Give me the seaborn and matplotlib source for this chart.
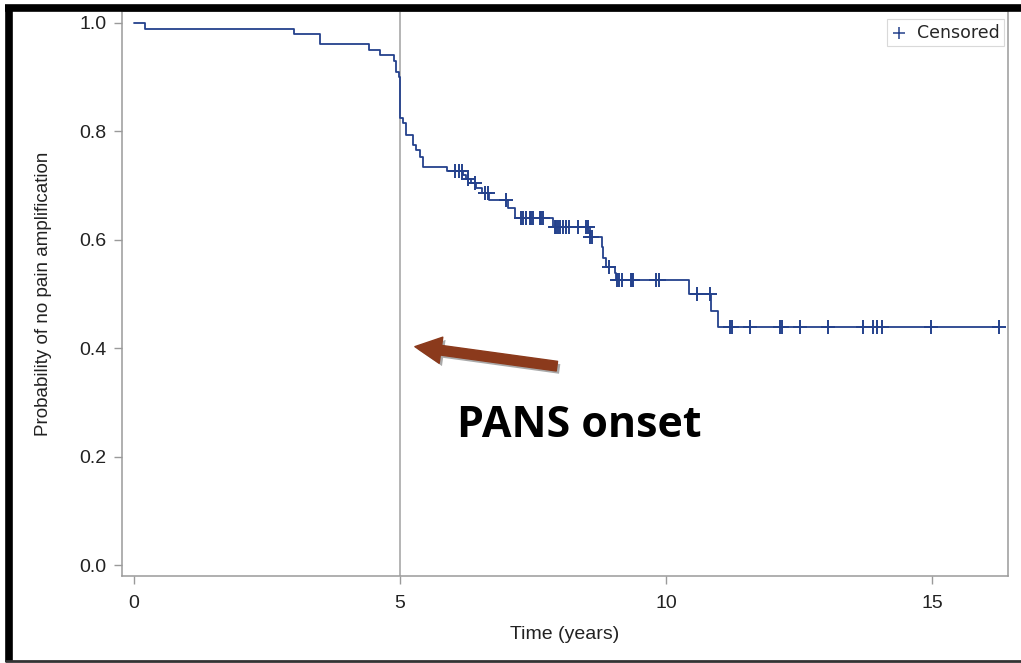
import matplotlib
matplotlib.use("Agg")
import matplotlib.pyplot as plt
import matplotlib.patheffects as pe
from matplotlib.lines import Line2D
import seaborn as sns
import pandas as pd

# Kaplan-Meier step curve (time of event, survival after event)
step_times = [0.0, 0.2, 3.0, 3.5, 4.42, 4.62, 4.89, 4.93, 4.98, 5.0, 5.05, 5.11, 5.25,
              5.30, 5.38, 5.43, 5.88, 6.19, 6.25, 6.33, 6.43, 6.54, 6.68, 7.03, 7.16,
              7.88, 8.57, 8.79, 8.82, 8.88, 9.04, 9.07, 10.43, 10.85, 10.98, 16.27]
step_surv = [1.0, 0.988, 0.980, 0.961, 0.950, 0.940, 0.930, 0.910, 0.901, 0.824, 0.815,
             0.793, 0.775, 0.766, 0.753, 0.735, 0.726, 0.720, 0.712, 0.704, 0.695, 0.686,
             0.673, 0.658, 0.640, 0.624, 0.606, 0.587, 0.566, 0.550, 0.538, 0.526,
             0.501, 0.468, 0.4385, 0.4385]

# Censored observations
cens_times = [6.03, 6.11, 6.16, 6.28, 6.41, 6.60, 6.65, 6.99,
              7.27, 7.32, 7.37, 7.44, 7.47, 7.50, 7.63, 7.66, 7.68,
              7.91, 7.94, 7.97, 8.01, 8.07, 8.13, 8.18, 8.35, 8.50, 8.54,
              8.57, 8.61, 8.93,
              9.08, 9.12, 9.18, 9.34, 9.36, 9.39, 9.81, 9.87,
              10.58, 10.83,
              11.20, 11.24, 11.58, 12.15, 12.19, 12.52, 13.04, 13.71, 13.90, 13.96,
              14.07, 14.98, 16.27]
cens_surv = [0.726, 0.726, 0.726, 0.712, 0.704, 0.686, 0.686, 0.673,
             0.640, 0.640, 0.640, 0.640, 0.640, 0.640, 0.640, 0.640, 0.640,
             0.624, 0.624, 0.624, 0.624, 0.624, 0.624, 0.624, 0.624, 0.624, 0.624,
             0.606, 0.606, 0.550,
             0.526, 0.526, 0.526, 0.526, 0.526, 0.526, 0.526, 0.526,
             0.501, 0.501,
             0.4385, 0.4385, 0.4385, 0.4385, 0.4385, 0.4385, 0.4385, 0.4385, 0.4385,
             0.4385, 0.4385, 0.4385, 0.4385]

x_ticks = [0, 5, 10, 15]
y_ticks = [0.0, 0.2, 0.4, 0.6, 0.8, 1.0]
y_ticklabels = ["0.0", "0.2", "0.4", "0.6", "0.8", "1.0"]
onset_year = 5

sns.set_theme(style="white")
plt.rcParams["font.family"] = ["Liberation Sans", "DejaVu Sans"]

line_color = "#24418C"
axis_gray = "#9a9a9a"

fig = plt.figure(figsize=(10.21, 6.63), dpi=100)
ax = fig.add_axes([122 / 1021, 1 - 576 / 663, (1008 - 122) / 1021, (576 - 11) / 663])

steps = pd.DataFrame({"t": step_times, "s": step_surv})
cens = pd.DataFrame({"t": cens_times, "s": cens_surv})

ax.axvline(onset_year, color="#a8a8a8", lw=1.2, zorder=1)

sns.lineplot(data=steps, x="t", y="s", drawstyle="steps-post", color=line_color,
             lw=1.3, ax=ax, estimator=None, sort=False, zorder=3)
sns.scatterplot(data=cens, x="t", y="s", marker="+", s=100, color=line_color,
                linewidth=1.4, ax=ax, zorder=4, label="Censored")

ax.set_xlim(-0.225, 16.43)
ax.set_ylim(-0.020, 1.022)
ax.set_xticks(x_ticks)
ax.set_yticks(y_ticks)
ax.set_yticklabels(y_ticklabels)
ax.tick_params(axis="both", direction="out", length=6, width=1, color=axis_gray,
               labelsize=14, labelcolor="#222222", bottom=True, left=True)
ax.tick_params(axis="x", pad=8)
ax.tick_params(axis="y", pad=5)
for sp in ax.spines.values():
    sp.set_color(axis_gray)
    sp.set_linewidth(1.1)

ax.set_xlabel("Time (years)", fontsize=14, color="#222222", labelpad=10)
ax.set_ylabel("Probability of no pain amplification", fontsize=13.5, color="#222222",
              labelpad=20)

leg = ax.legend(loc="upper right", frameon=True, handletextpad=0.6,
                borderpad=0.25, handlelength=0.9, fancybox=False,
                prop={"family": "DejaVu Sans", "size": 12.5},
                bbox_to_anchor=(0.9955, 0.985), borderaxespad=0)
leg.get_frame().set_edgecolor("#d0d0d0")
leg.get_frame().set_linewidth(0.8)
for h in leg.legend_handles:
    h.set_sizes([70])
    h.set_linewidth(1.1)

# Annotation arrow and label
ax.annotate("", xy=(5.28, 0.403), xytext=(7.95, 0.367),
            arrowprops=dict(facecolor="#8B3A1C", edgecolor="#8B3A1C", width=7,
                            headwidth=19, headlength=19,
                            path_effects=[pe.withSimplePatchShadow(offset=(2, -2),
                                                                   shadow_rgbFace="#555555",
                                                                   alpha=0.5)]),
            zorder=5)
ax.text(6.07, 0.236, "PANS onset", fontsize=31, fontweight="bold", color="black",
        family=["Open Sans", "DejaVu Sans"], ha="left", va="baseline", zorder=5)

# Outer black frame (top, left, bottom)
fig.add_artist(Line2D([5 / 1021, 1.0], [1 - 7.5 / 663, 1 - 7.5 / 663],
                      transform=fig.transFigure, color="black", lw=5.5,
                      solid_capstyle="butt"))
fig.add_artist(Line2D([8.5 / 1021, 8.5 / 1021], [1 - 5 / 663, 1 / 663],
                      transform=fig.transFigure, color="black", lw=5.5,
                      solid_capstyle="butt"))
fig.add_artist(Line2D([5 / 1021, 1.0], [2.5 / 663, 2.5 / 663],
                      transform=fig.transFigure, color="#333333", lw=2,
                      solid_capstyle="butt"))

fig.savefig("out.png", dpi=100)
